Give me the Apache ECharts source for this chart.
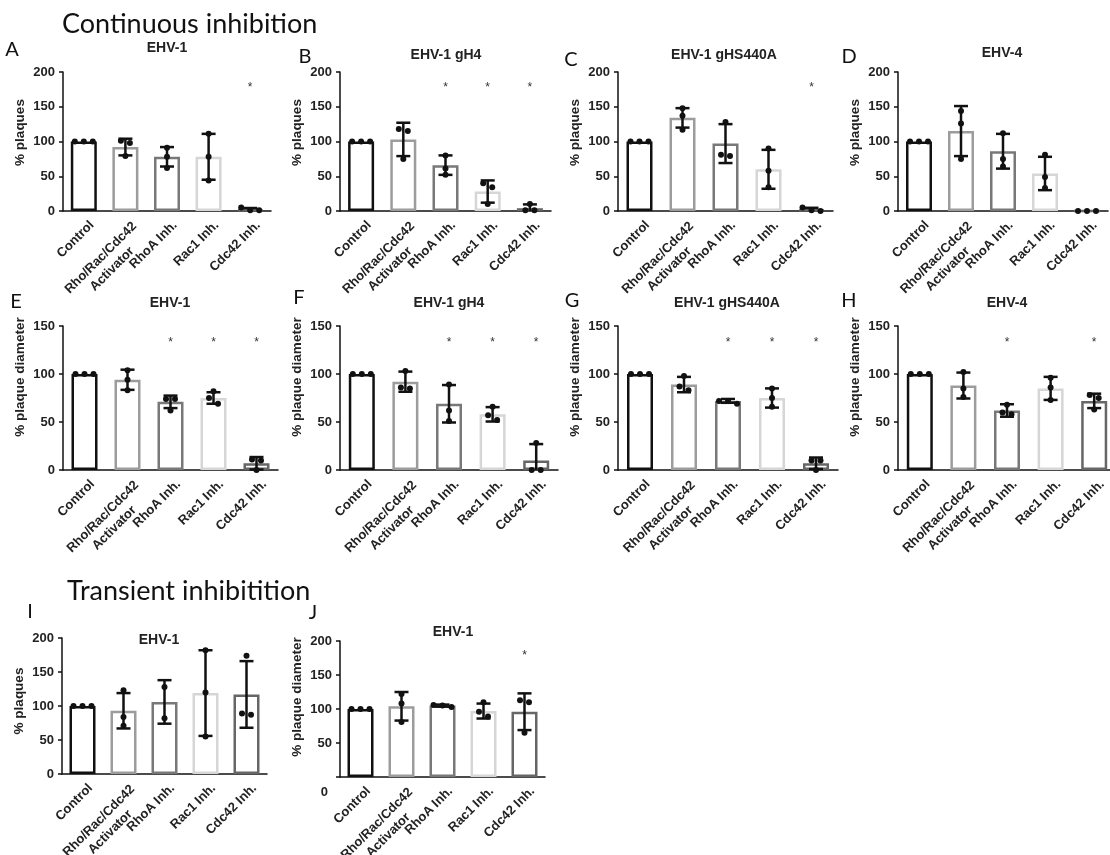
<!DOCTYPE html>
<html><head><meta charset="utf-8">
<script src="https://cdn.jsdelivr.net/npm/echarts@6/dist/echarts.min.js"></script>
<style>html,body{margin:0;padding:0;background:#fff}#c{width:1110px;height:855px}</style>
</head><body><div id="c"></div>
<script>
// ---------- data ----------
const categories = ['Control', 'Rho/Rac/Cdc42\nActivator', 'RhoA Inh.', 'Rac1 Inh.', 'Cdc42 Inh.'];
const ticksRow200 = [0, 50, 100, 150, 200];
const ticksRow150 = [0, 50, 100, 150];

// Continuous inhibition - % plaques
const A_mean = [100, 92, 78, 78, 2];
const A_sd   = [0, 12, 14, 33, 2.3];
const A_pts  = [[100,100,100],[101,98,79],[91,78,62],[111,78,44],[5,1,1]];
const A_stars = [4];

const B_mean = [100, 103, 66, 28, 4];
const B_sd   = [0, 24, 14, 16, 5.5];
const B_pts  = [[100,100,100],[118,115,75],[80,61,52],[40,34,10],[10,1,1]];
const B_stars = [2, 3, 4];

const C_mean = [100, 134, 97, 60, 2];
const C_sd   = [0, 14, 28, 28, 2.6];
const C_pts  = [[100,100,100],[148,137,117],[128,79,81],[90,58,34],[5,1,0]];
const C_stars = [4];

const D_mean = [100, 115, 86, 54, 0];
const D_sd   = [0, 36, 25, 24, 0];
const D_pts  = [[100,100,100],[144,126,75],[112,64,75],[81,49,33],[0,0,0]];
const D_stars = [];

// Continuous inhibition - % plaque diameter
const E_mean = [100, 94, 71, 75, 7];
const E_sd   = [0, 10.5, 6.5, 6, 6.5];
const E_pts  = [[100,100,100],[104,94,83],[74,74,62],[82,75,69],[11,10,0]];
const E_stars = [2, 3, 4];

const F_mean = [100, 92, 69, 58, 10];
const F_sd   = [0, 10.5, 19.5, 7.5, 17];
const F_pts  = [[100,100,100],[103,85,86],[89,62,51],[66,57,52],[28,0,0]];
const F_stars = [2, 3, 4];

const G_mean = [100, 89, 72, 75, 7];
const G_sd   = [0, 8, 2, 10, 6];
const G_pts  = [[100,100,100],[98,83,87],[72,69,72],[85,75,66],[10,10,0]];
const G_stars = [2, 3, 4];

const H_mean = [100, 88, 62, 85, 72];
const H_sd   = [0, 13.5, 6.5, 12, 7.5];
const H_pts  = [[100,100,100],[102,85,76],[68,58,60],[96,86,73],[78,75,63]];
const H_stars = [2, 4];

// Transient inhibition
const I_mean = [100, 93, 106, 119, 117];
const I_sd   = [0, 26, 32, 63, 49];
const I_pts  = [[100,100,100],[123,84,71],[128,82],[182,120,55],[174,87,89]];
const I_stars = [];

const J_mean = [100, 104, 105, 97, 96];
const J_sd   = [0, 21, 1.5, 11, 27];
const J_pts  = [[100,100,100],[122,108,81],[103,105,106],[110,96,89],[113,110,65]];
const J_stars = [4];

const STAR_200 = 178;
const STAR_150 = 133;

// ---------- style ----------
const BAR_COLORS = ['#111111', '#9c9c9c', '#787878', '#d6d6d6', '#666666'];
const FONT = '"Liberation Sans", Arial, sans-serif';
const INK = '#222';

const panels = [
  {L:'A', title:'EHV-1', mean:A_mean, sd:A_sd, pts:A_pts, stars:A_stars, yName:'% plaques', ticks:ticksRow200, star:STAR_200,
   grid:{left:63, top:72, width:208, height:139}, letter:[12,50], tpos:[167,48], namePad:18},
  {L:'B', title:'EHV-1 gH4', mean:B_mean, sd:B_sd, pts:B_pts, stars:B_stars, yName:'% plaques', ticks:ticksRow200, star:STAR_200,
   grid:{left:340, top:72, width:211, height:139}, letter:[305,57], tpos:[446,55], namePad:18},
  {L:'C', title:'EHV-1 gHS440A', mean:C_mean, sd:C_sd, pts:C_pts, stars:C_stars, yName:'% plaques', ticks:ticksRow200, star:STAR_200,
   grid:{left:618, top:72, width:215, height:139}, letter:[571,60], tpos:[724,55], namePad:18},
  {L:'D', title:'EHV-4', mean:D_mean, sd:D_sd, pts:D_pts, stars:D_stars, yName:'% plaques', ticks:ticksRow200, star:STAR_200,
   grid:{left:898, top:72, width:210, height:139}, letter:[849,57], tpos:[1002,53], namePad:18},
  {L:'E', title:'EHV-1', mean:E_mean, sd:E_sd, pts:E_pts, stars:E_stars, yName:'% plaque diameter', ticks:ticksRow150, star:STAR_150,
   grid:{left:63, top:326, width:215, height:144}, letter:[16,302], tpos:[170,303], namePad:42},
  {L:'F', title:'EHV-1 gH4', mean:F_mean, sd:F_sd, pts:F_pts, stars:F_stars, yName:'% plaque diameter', ticks:ticksRow150, star:STAR_150,
   grid:{left:340, top:326, width:218, height:144}, letter:[299,298], tpos:[449,303], namePad:42},
  {L:'G', title:'EHV-1 gHS440A', mean:G_mean, sd:G_sd, pts:G_pts, stars:G_stars, yName:'% plaque diameter', ticks:ticksRow150, star:STAR_150,
   grid:{left:618, top:326, width:220, height:144}, letter:[572,301], tpos:[727,303], namePad:42},
  {L:'H', title:'EHV-4', mean:H_mean, sd:H_sd, pts:H_pts, stars:H_stars, yName:'% plaque diameter', ticks:ticksRow150, star:STAR_150,
   grid:{left:898, top:326, width:218, height:144}, letter:[849,301], tpos:[1007,303], namePad:42},
  {L:'I', title:'EHV-1', mean:I_mean, sd:I_sd, pts:I_pts, stars:I_stars, yName:'% plaques', ticks:ticksRow200, star:STAR_200,
   grid:{left:62, top:638, width:205, height:136}, letter:[30,612], tpos:[159,640], namePad:10},
  {L:'J', title:'EHV-1', mean:J_mean, sd:J_sd, pts:J_pts, stars:J_stars, yName:'% plaque diameter', ticks:ticksRow200, star:STAR_200,
   grid:{left:340, top:641, width:205, height:136}, letter:[313,613], tpos:[453,632], namePad:24, zeroShift:true}
];

// ---------- renderers ----------
function errRender(params, api) {
  const k = api.value(0), m = api.value(1), s = api.value(2);
  if (!(s > 0)) return null;
  const top = api.coord([k, m + s]);
  const low = m - s;
  const bot = api.coord([k, Math.max(low, 0)]);
  const cw = 7;
  const st = {stroke:'#111', lineWidth:2.5};
  const ch = [
    {type:'line', shape:{x1:top[0], y1:top[1], x2:bot[0], y2:bot[1]}, style:st},
    {type:'line', shape:{x1:top[0]-cw, y1:top[1], x2:top[0]+cw, y2:top[1]}, style:st}
  ];
  if (low >= 0) ch.push({type:'line', shape:{x1:bot[0]-cw, y1:bot[1], x2:bot[0]+cw, y2:bot[1]}, style:st});
  return {type:'group', children:ch};
}
function makePtsRender(pts) {
  return function (params, api) {
    const k = params.dataIndex;
    const list = pts[k].map(v => api.coord([k, v]));
    const order = list.map((c, i) => i).sort((a, b) => list[a][1] - list[b][1]);
    const groups = [];
    let cur = [order[0]];
    for (let j = 1; j < order.length; j++) {
      if (list[order[j]][1] - list[cur[cur.length - 1]][1] < 6) cur.push(order[j]);
      else { groups.push(cur); cur = [order[j]]; }
    }
    groups.push(cur);
    const children = [];
    groups.forEach(g => g.forEach((idx, j) => {
      const dx = (j - (g.length - 1) / 2) * 9;
      children.push({type:'circle', shape:{cx:list[idx][0] + dx, cy:list[idx][1], r:3}, style:{fill:'#111'}});
    }));
    return {type:'group', children};
  };
}
function starRender(params, api) {
  const c = api.coord([api.value(0), api.value(1)]);
  return {type:'text', x:c[0], y:c[1], style:{text:'*', fontSize:12, fontFamily:FONT, fill:'#333', align:'center', verticalAlign:'middle'}};
}

// ---------- option ----------
const XL = {fontSize:13, fontWeight:'bold', fontFamily:FONT, color:INK};
const grids = [], xAxes = [], yAxes = [], series = [], graphics = [];
panels.forEach((p, i) => {
  grids.push(Object.assign({outerBoundsMode:'none', containLabel:false}, p.grid));
  xAxes.push({
    type:'category', gridIndex:i, data:categories,
    axisLine:{lineStyle:{color:'#111', width:1.5}},
    axisTick:{alignWithLabel:true, length:4, lineStyle:{color:'#111', width:1.5}},
    axisLabel:Object.assign({
      interval:0, rotate:45, margin:11, verticalAlign:'top', padding:[0, -5, 0, 0],
      formatter: v => v.indexOf('\n') >= 0 ? v.split('\n').map(s => '{c|' + s + '}').join('\n') : v,
      rich:{c:Object.assign({align:'center', lineHeight:16}, XL)}
    }, XL)
  });
  const tks = p.ticks;
  const yLabel = {margin:8, fontSize:13, fontWeight:'bold', fontFamily:FONT, color:INK};
  if (p.zeroShift) {
    yLabel.formatter = v => v === 0 ? '{z|0}' : String(v);
    yLabel.rich = {z:{padding:[30, 4, 0, 0], fontSize:13, fontWeight:'bold', fontFamily:FONT, color:INK}};
  }
  yAxes.push({
    type:'value', gridIndex:i, min:tks[0], max:tks[tks.length - 1], interval:tks[1] - tks[0],
    axisLine:{show:true, lineStyle:{color:'#111', width:1.5}},
    axisTick:{show:true, length:4, lineStyle:{color:'#111', width:1.5}},
    splitLine:{show:false},
    axisLabel:yLabel,
    name:p.yName, nameLocation:'middle', nameGap:36,
    nameTextStyle:{fontSize:13.5, fontWeight:'bold', fontFamily:FONT, color:INK, padding:[0, 0, 0, p.namePad]}
  });
  series.push({
    type:'bar', xAxisIndex:i, yAxisIndex:i, barWidth:26, silent:true,
    itemStyle:{color:'#fff', borderWidth:2.5},
    data:p.mean.map((v, k) => ({value:v, itemStyle:{borderColor:BAR_COLORS[k], color:'#fff'}})),
    z:2
  });
  series.push({
    type:'custom', xAxisIndex:i, yAxisIndex:i, silent:true, renderItem:errRender,
    data:p.mean.map((m, k) => [k, m, p.sd[k]]), z:3
  });
  series.push({
    type:'custom', xAxisIndex:i, yAxisIndex:i, silent:true, renderItem:makePtsRender(p.pts),
    data:p.pts.map((pp, k) => [k, pp[0]]), z:4
  });
  if (p.stars.length) series.push({
    type:'custom', xAxisIndex:i, yAxisIndex:i, silent:true, renderItem:starRender,
    data:p.stars.map(k => [k, p.star]), z:4
  });
  graphics.push({type:'text', x:p.letter[0], y:p.letter[1],
    style:{text:p.L, fontSize:20, fontFamily:'Lato, "Open Sans", sans-serif', fill:'#111', align:'center', verticalAlign:'middle'}});
  graphics.push({type:'text', x:p.tpos[0], y:p.tpos[1],
    style:{text:p.title, fontSize:14, fontWeight:'bold', fontFamily:FONT, fill:INK, align:'center', verticalAlign:'middle'}});
});
graphics.push({type:'text', x:62, y:24,
  style:{text:'Continuous inhibition', fontSize:27, fontFamily:'Lato, "Open Sans", sans-serif', fill:'#111', align:'left', verticalAlign:'middle'}});
graphics.push({type:'text', x:67, y:591,
  style:{text:'Transient inhibitition', fontSize:27, fontFamily:'Lato, "Open Sans", sans-serif', fill:'#111', align:'left', verticalAlign:'middle'}});

const chart = echarts.init(document.getElementById('c'), null, {renderer:'canvas'});
chart.setOption({
  backgroundColor:'#fff',
  animation:false,
  grid:grids, xAxis:xAxes, yAxis:yAxes, series:series, graphic:graphics
});
</script></body></html>
